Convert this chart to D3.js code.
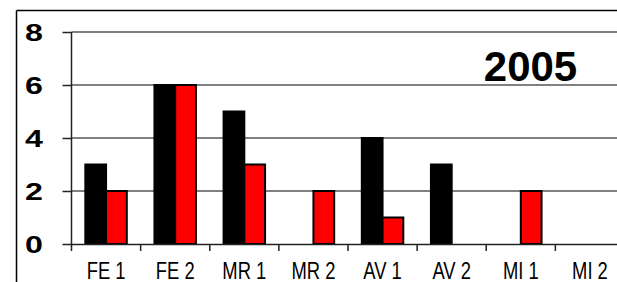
<!DOCTYPE html>
<html>
<head>
<meta charset="utf-8">
<script src="https://cdn.jsdelivr.net/npm/d3@7"></script>
<style>
  body { margin: 0; background: #fff; }
  svg { display: block; }
</style>
</head>
<body>
<div class="Canvas"></div>
<script>
let categories = ['FE 1', 'FE 2', 'MR 1', 'MR 2', 'AV 1', 'AV 2', 'MI 1', 'MI 2'];
let blackValues = [3, 6, 5, 0, 4, 3, 0, 0];
let redValues = [2, 6, 3, 2, 1, 0, 2, 0];
let yTicks = [0, 2, 4, 6, 8];
let title = '2005';

let width = 617;
let height = 282;
let plotLeft = 71.5;
let plotRight = 624.5;
let plotTop = 32;
let plotBottom = 244;
let fontFamily = 'Liberation Sans, Arial, sans-serif';

let svg = d3.select('.Canvas').append('svg').attr('width', width).attr('height', height);

// frame (only top and left show inside the window)
svg.append('line').attr('x1', 16.5).attr('y1', 10.5).attr('x2', width).attr('y2', 10.5)
    .attr('stroke', 'black').attr('stroke-width', 1.5);
svg.append('line').attr('x1', 16.5).attr('y1', 10.5).attr('x2', 16.5).attr('y2', height)
    .attr('stroke', 'black').attr('stroke-width', 1.5);

let x = d3.scaleBand().domain(categories).range([plotLeft, plotRight]).paddingInner(0).paddingOuter(0);
let y = d3.scaleLinear().domain([0, 8]).range([plotBottom, plotTop]);

// gridlines
svg.append('g')
    .selectAll('line')
    .data(yTicks.filter((d) => d > 0))
    .enter()
    .append('line')
    .attr('x1', plotLeft)
    .attr('x2', plotRight)
    .attr('y1', (d) => y(d))
    .attr('y2', (d) => y(d))
    .attr('stroke', '#808080')
    .attr('stroke-width', 2);

// bars
let groupWidth = x.bandwidth() * 0.6;
let barWidth = groupWidth / 2;
let offset = (x.bandwidth() - groupWidth) / 2;

let series = [
    { values: blackValues, fill: 'black', shift: 0 },
    { values: redValues, fill: '#ff0000', shift: 1 },
];
series.forEach((s) => {
    svg.append('g')
        .selectAll('rect')
        .data(categories.map((c, i) => ({ c, v: s.values[i] })).filter((d) => d.v > 0))
        .enter()
        .append('rect')
        .attr('x', (d) => x(d.c) + offset + s.shift * barWidth)
        .attr('y', (d) => y(d.v))
        .attr('width', barWidth)
        .attr('height', (d) => y(0) - y(d.v))
        .attr('fill', s.fill)
        .attr('stroke', 'black')
        .attr('stroke-width', 2);
});

// y axis
let yAxis = svg.append('g').attr('transform', `translate(${plotLeft},0)`)
    .call(d3.axisLeft(y).tickValues(yTicks).tickSize(9).tickFormat(''));
yAxis.select('.domain').attr('stroke', '#222').attr('stroke-width', 1.5).attr('d', `M0,${plotTop}V${plotBottom}`);
yAxis.selectAll('.tick line').attr('stroke', '#222').attr('stroke-width', 1.5);

// the labels in the picture are stretched wide
svg.append('g')
    .selectAll('text')
    .data(yTicks)
    .enter()
    .append('text')
    .attr('transform', (d) => `translate(43,${y(d) + 8.5}) scale(1.4,1)`)
    .attr('text-anchor', 'end')
    .attr('font-family', fontFamily)
    .attr('font-weight', 'bold')
    .attr('font-size', '23px')
    .text((d) => d);

// x axis
let xAxis = svg.append('g').attr('transform', `translate(0,${plotBottom})`)
    .call(d3.axisBottom(x).tickSize(0).tickFormat(''));
xAxis.select('.domain').attr('stroke', '#222').attr('stroke-width', 1.5);
svg.append('g')
    .selectAll('line')
    .data(categories)
    .enter()
    .append('line')
    .attr('x1', (d) => x(d))
    .attr('x2', (d) => x(d))
    .attr('y1', plotBottom)
    .attr('y2', plotBottom + 7)
    .attr('stroke', '#222')
    .attr('stroke-width', 1.5);

// category labels are squeezed narrow
svg.append('g')
    .selectAll('text')
    .data(categories)
    .enter()
    .append('text')
    .attr('transform', (d) => `translate(${x(d) + x.bandwidth() / 2},279) scale(0.8,1)`)
    .attr('text-anchor', 'middle')
    .attr('font-family', fontFamily)
    .attr('font-size', '23px')
    .text((d) => d);

// title
svg.append('text')
    .attr('x', 530.5)
    .attr('y', 81)
    .attr('text-anchor', 'middle')
    .attr('font-family', fontFamily)
    .attr('font-weight', 'bold')
    .attr('font-size', '42px')
    .text(title);
</script>
</body>
</html>
